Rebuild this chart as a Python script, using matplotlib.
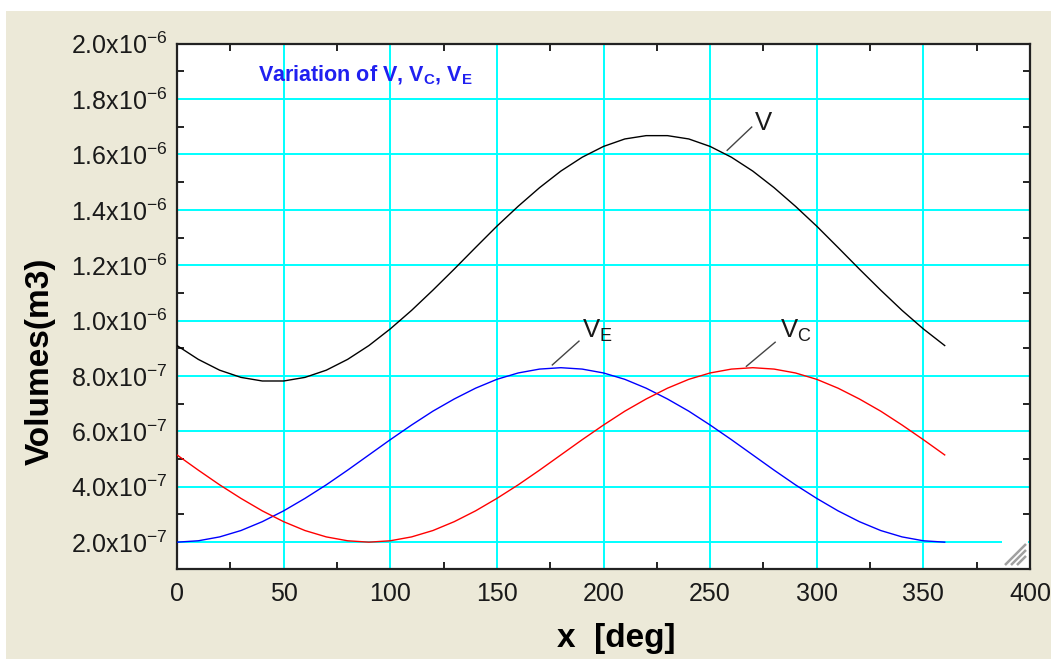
import matplotlib
matplotlib.use('Agg')
import matplotlib.pyplot as plt
import numpy as np
from matplotlib.patches import Rectangle
from matplotlib.ticker import FixedLocator, FixedFormatter

plt.rcParams['font.family'] = ['Liberation Sans', 'DejaVu Sans']

# crank angle [deg]
angle = [0, 10, 20, 30, 40, 50, 60, 70, 80, 90, 100, 110, 120, 130, 140, 150, 160, 170, 180,
         190, 200, 210, 220, 230, 240, 250, 260, 270, 280, 290, 300, 310, 320, 330, 340, 350, 360]

# volumes, read in units of 1e-7 m3
vol_total = np.array([9.10, 8.60, 8.21, 7.95, 7.82, 7.82, 7.95, 8.21, 8.60, 9.10, 9.70, 10.37, 11.10,
                      11.86, 12.64, 13.41, 14.13, 14.80, 15.40, 15.90, 16.29, 16.56, 16.68, 16.68,
                      16.56, 16.29, 15.90, 15.40, 14.80, 14.13, 13.41, 12.64, 11.86, 11.10, 10.37,
                      9.70, 9.10]) * 1e-7
vol_exp = np.array([2.00, 2.05, 2.19, 2.42, 2.74, 3.13, 3.58, 4.07, 4.60, 5.15, 5.70, 6.23, 6.73,
                    7.17, 7.56, 7.88, 8.11, 8.25, 8.30, 8.25, 8.11, 7.88, 7.56, 7.17, 6.73, 6.23,
                    5.70, 5.15, 4.60, 4.07, 3.58, 3.13, 2.74, 2.42, 2.19, 2.05, 2.00]) * 1e-7
vol_comp = np.array([5.15, 4.60, 4.07, 3.58, 3.13, 2.74, 2.42, 2.19, 2.05, 2.00, 2.05, 2.19, 2.42,
                     2.74, 3.13, 3.58, 4.07, 4.60, 5.15, 5.70, 6.23, 6.73, 7.17, 7.56, 7.88, 8.11,
                     8.25, 8.30, 8.25, 8.11, 7.88, 7.56, 7.17, 6.73, 6.23, 5.70, 5.15]) * 1e-7

xticks = [0, 50, 100, 150, 200, 250, 300, 350, 400]
yticks = [2e-7, 4e-7, 6e-7, 8e-7, 1.0e-6, 1.2e-6, 1.4e-6, 1.6e-6, 1.8e-6, 2.0e-6]
ytick_labels = [r'2.0x10$^{\mathregular{-7}}$', r'4.0x10$^{\mathregular{-7}}$',
                r'6.0x10$^{\mathregular{-7}}$', r'8.0x10$^{\mathregular{-7}}$',
                r'1.0x10$^{\mathregular{-6}}$', r'1.2x10$^{\mathregular{-6}}$',
                r'1.4x10$^{\mathregular{-6}}$', r'1.6x10$^{\mathregular{-6}}$',
                r'1.8x10$^{\mathregular{-6}}$', r'2.0x10$^{\mathregular{-6}}$']

# curve labels and their leader lines
curve_labels = ['V', r'V$_\mathregular{E}$', r'V$_\mathregular{C}$']
label_pos = [(271, 1.690e-6), (190, 9.40e-7), (283, 9.40e-7)]
leader_from = [(258, 1.615e-6), (176, 8.40e-7), (267, 8.35e-7)]
leader_to = [(269.5, 1.699e-6), (188.5, 9.26e-7), (280.5, 9.22e-7)]

W, H = 1051, 659
fig = plt.figure(figsize=(W / 100, H / 100), dpi=100)
fig.patch.set_facecolor('white')
fig.patches.append(Rectangle((6 / W, 0), 1, 1 - 11 / H, transform=fig.transFigure,
                             facecolor='#ECE9D8', edgecolor='none', zorder=-10))

ax_l, ax_r, ax_t, ax_b = 177, 1030, 43.7, 569.3
ax = fig.add_axes([ax_l / W, (H - ax_b) / H, (ax_r - ax_l) / W, (ax_b - ax_t) / H])
ax.set_facecolor('white')

ax.plot(angle, vol_total, color='black', lw=1.0, zorder=3)
ax.plot(angle, vol_exp, color='#0000ff', lw=1.0, zorder=3)
ax.plot(angle, vol_comp, color='#ff0000', lw=1.0, zorder=3)

ax.set_xlim(0, 400)
ax.set_ylim(1.02e-7, 2.0e-6)

ax.xaxis.set_major_locator(FixedLocator(xticks))
ax.xaxis.set_major_formatter(FixedFormatter([str(t) for t in xticks]))
ax.yaxis.set_major_locator(FixedLocator(yticks))
ax.yaxis.set_major_formatter(FixedFormatter(ytick_labels))
ax.xaxis.set_minor_locator(FixedLocator(np.arange(25, 400, 50)))
ax.yaxis.set_minor_locator(FixedLocator(np.arange(3e-7, 2e-6, 2e-7)))

ax.set_axisbelow(True)
ax.grid(True, which='major', color='#00ffff', lw=1.4)
ax.tick_params(which='major', length=0, labelsize=18, labelcolor='#1a1a1a')
ax.tick_params(axis='x', which='major', pad=9.5)
ax.tick_params(axis='y', which='major', pad=7)
ax.tick_params(which='minor', direction='in', length=5, width=1.4, color='#222222',
               top=True, right=True)
for sp in ax.spines.values():
    sp.set_linewidth(1.6)
    sp.set_color('#222222')

ax.set_xlabel('x  [deg]', fontsize=24, fontweight='bold', va='center')
ax.xaxis.set_label_coords((616 - ax_l) / (ax_r - ax_l), (ax_b - 638) / (ax_b - ax_t))
ax.set_ylabel('Volumes(m3)', fontsize=24, fontweight='bold', va='center')
ax.yaxis.set_label_coords((40 - ax_l) / (ax_r - ax_l), (ax_b - 361.5) / (ax_b - ax_t))

ax.text(38, 1.863e-6, r'Variation of V, V$_\mathregular{C}$, V$_\mathregular{E}$',
        color='#2020f0', fontsize=15.5, fontweight='bold', va='baseline', zorder=4)

for txt, pos, p0, p1 in zip(curve_labels, label_pos, leader_from, leader_to):
    ax.plot([p0[0], p1[0]], [p0[1], p1[1]], color='#444444', lw=1.0, zorder=4)
    ax.text(pos[0], pos[1], txt, fontsize=18.5, color='#1a1a1a', va='baseline', zorder=4)

# resize grip in the bottom right corner
def to_ax(px, py):
    return (px - ax_l) / (ax_r - ax_l), (ax_b - py) / (ax_b - ax_t)

gx0, gy0 = to_ax(1002, 572)
gx1, gy1 = to_ax(1027.5, 535)
ax.add_patch(Rectangle((gx0, 0.003), gx1 - gx0, gy1, transform=ax.transAxes,
                       facecolor='white', edgecolor='none', zorder=1.5))
for s in (21, 15, 9):
    xa, ya = to_ax(1026 - s, 565)
    xb, yb = to_ax(1026, 565 - s)
    ax.plot([xa, xb], [ya, yb], transform=ax.transAxes, color='#a0a0a0', lw=1.8,
            zorder=2, solid_capstyle='butt')

fig.savefig('out.png', dpi=100, facecolor=fig.get_facecolor())
